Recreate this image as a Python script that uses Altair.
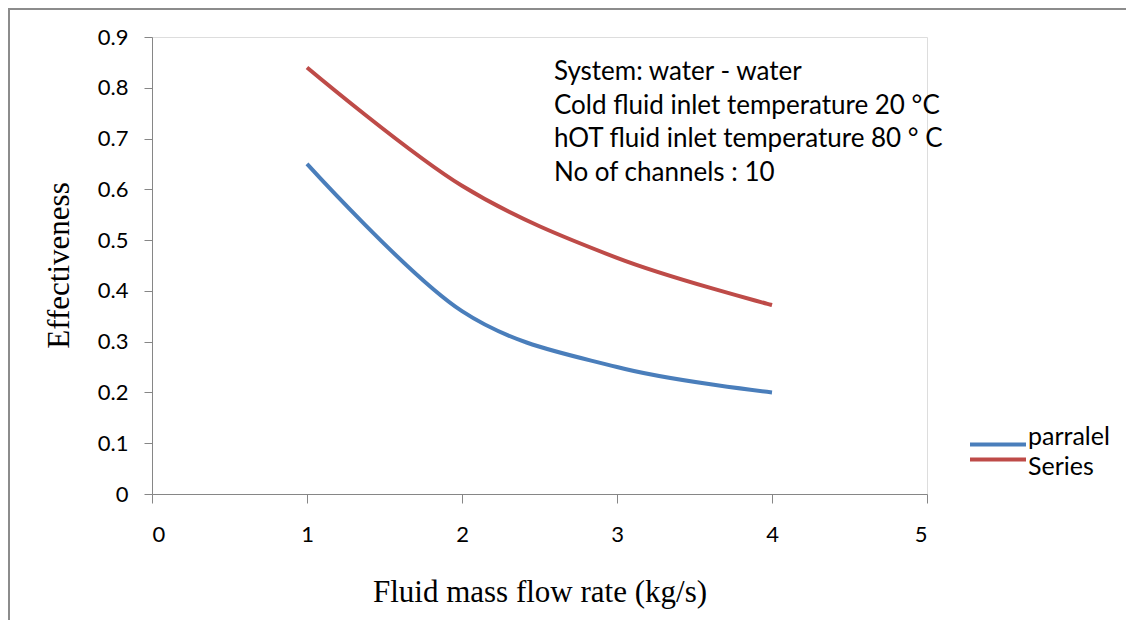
import altair as alt
import pandas as pd

x_vals = [1, 2, 3, 4]
parallel_vals = [0.65, 0.36, 0.25, 0.20]
series_vals = [0.84, 0.607, 0.465, 0.372]
series_names = ["parralel", "Series"]
series_colors = ["#4A7EBB", "#BE4B48"]
note_lines = [
    "System: water - water",
    "Cold fluid inlet temperature 20 °C",
    "hOT fluid inlet temperature 80 ° C",
    "No of channels : 10",
]
y_ticks = [0, 0.1, 0.2, 0.3, 0.4, 0.5, 0.6, 0.7, 0.8, 0.9]
x_ticks = [0, 1, 2, 3, 4, 5]

rows = []
for xv, yv in zip(x_vals, parallel_vals):
    rows.append({"x": xv, "y": yv, "s": series_names[0]})
for xv, yv in zip(x_vals, series_vals):
    rows.append({"x": xv, "y": yv, "s": series_names[1]})
df = pd.DataFrame(rows)

W, H = 775, 457
color_scale = alt.Scale(domain=series_names, range=series_colors)

lines = alt.Chart(df).mark_line(strokeWidth=4, interpolate="cardinal").encode(
    x=alt.X("x:Q", scale=alt.Scale(domain=[0, 5], nice=False),
            axis=alt.Axis(values=x_ticks, format="d", title="Fluid mass flow rate (kg/s)",
                          grid=False, domainColor="#868686", tickColor="#868686",
                          tickSize=9, labelPadding=21, labelFont="Lato", labelFontSize=22,
                          labelColor="#000000", titleFont="Liberation Serif",
                          titleFontSize=31, titleFontWeight="normal", titleColor="#000000",
                          titleY=98, titleBaseline="middle")),
    y=alt.Y("y:Q", scale=alt.Scale(domain=[0, 0.9], nice=False),
            axis=alt.Axis(values=y_ticks, format=".1~f", title="Effectiveness",
                          grid=False, domainColor="#868686", tickColor="#868686",
                          tickSize=8, labelPadding=16, labelFont="Lato", labelFontSize=22,
                          labelColor="#000000", titleFont="Liberation Serif",
                          titleFontSize=31, titleFontWeight="normal", titleColor="#000000",
                          titleX=-93, titleY=228, titleBaseline="middle", titleAlign="center")),
    color=alt.Color("s:N", scale=color_scale, legend=None),
    detail="s:N",
)

notes_df = pd.DataFrame({"t": note_lines, "i": list(range(len(note_lines)))})
notes = alt.Chart(notes_df).mark_text(align="left", baseline="middle", font="Lato",
                                      fontSize=26, color="#000000").encode(
    x=alt.value(402),
    y=alt.Y("i:O", scale=alt.Scale(range=[35, 136], padding=0), axis=None),
    text="t:N",
)

leg_df = pd.DataFrame({"s": series_names})
leg_lines = alt.Chart(leg_df).mark_rule(strokeWidth=4).encode(
    x=alt.value(818), x2=alt.value(874),
    y=alt.Y("s:N", sort=series_names, scale=alt.Scale(range=[400, 430], padding=0), axis=None),
    color=alt.Color("s:N", scale=color_scale, legend=None),
)
leg_text = alt.Chart(leg_df).mark_text(align="left", baseline="middle", font="Lato",
                                       fontSize=25, color="#000000").encode(
    x=alt.value(876),
    y=alt.Y("s:N", sort=series_names, scale=alt.Scale(range=[400, 430], padding=0), axis=None),
    text="s:N",
)

frame_df = pd.DataFrame({"k": [0]})
frame_top = alt.Chart(frame_df).mark_rule(color="#8C8C8C", strokeWidth=2).encode(
    x=alt.value(-145), x2=alt.value(1200), y=alt.value(-28))
frame_left = alt.Chart(frame_df).mark_rule(color="#8C8C8C", strokeWidth=2).encode(
    x=alt.value(-143), y=alt.value(-29), y2=alt.value(700))

chart = alt.layer(lines, notes, leg_lines, leg_text, frame_top, frame_left).resolve_scale(
    y="independent"
).properties(
    width=W, height=H,
    autosize=alt.AutoSizeParams(type="none"),
    padding={"left": 144, "top": 29, "right": 199, "bottom": 126},
).configure_view(stroke=None).configure(background="white")

chart.save("out.html", embed_options={"renderer": "svg", "actions": False})
